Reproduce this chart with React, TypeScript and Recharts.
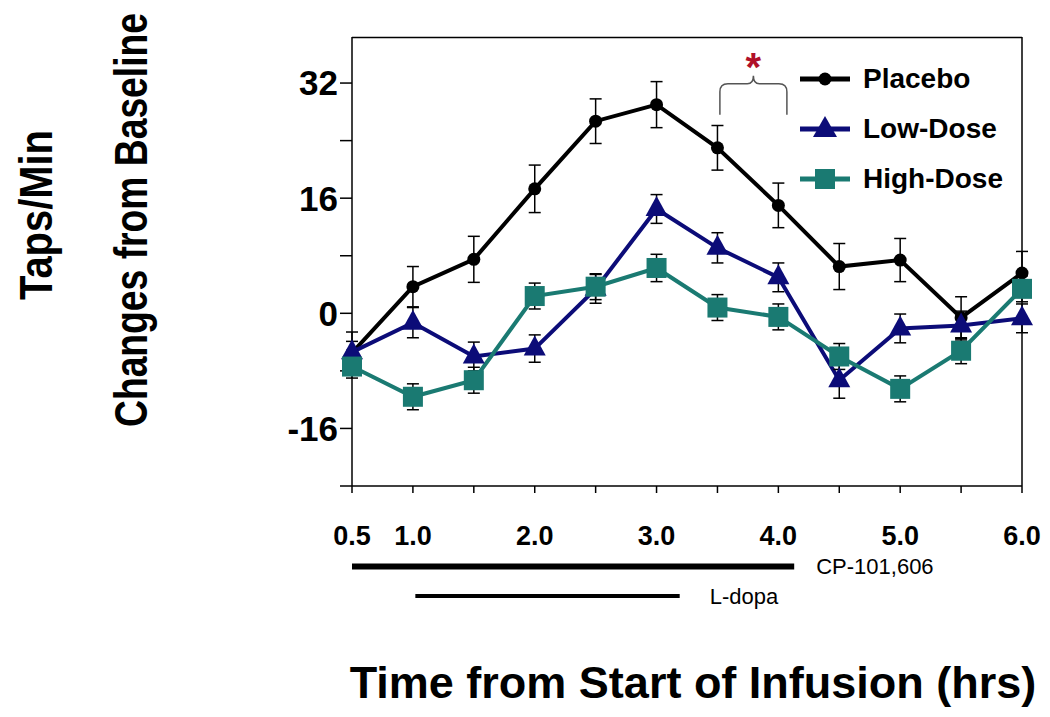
import React from 'react';
import {
  LineChart, Line, XAxis, YAxis, ErrorBar, Legend,
  ReferenceLine, ReferenceArea,
} from 'recharts';

const hours = [0.5, 1.0, 1.5, 2.0, 2.5, 3.0, 3.5, 4.0, 4.5, 5.0, 5.5, 6.0];
const placebo = [-5.5, 3.7, 7.5, 17.3, 26.7, 29.0, 23.0, 15.0, 6.5, 7.4, -0.6, 5.6];
const placeboErr = [2.9, 2.8, 3.2, 3.3, 3.1, 3.2, 3.1, 3.1, 3.2, 3.0, 2.9, 3.0];
const lowDose = [-5.4, -1.3, -6.0, -4.9, 3.4, 14.5, 9.1, 5.0, -9.3, -2.1, -1.7, -0.7];
const lowDoseErr = [1.5, 2.1, 2.0, 1.9, 2.0, 2.0, 2.1, 2.0, 2.5, 2.0, 2.0, 2.0];
const highDose = [-7.4, -11.6, -9.3, 2.4, 3.7, 6.3, 0.8, -0.5, -6.0, -10.5, -5.2, 3.4];
const highDoseErr = [1.6, 1.8, 1.8, 1.8, 1.8, 1.9, 1.8, 1.8, 1.8, 1.8, 1.8, 1.8];

const xTicks = [0.5, 1.0, 1.5, 2.0, 2.5, 3.0, 3.5, 4.0, 4.5, 5.0, 5.5, 6.0];
const xLabelled = [0.5, 1.0, 2.0, 3.0, 4.0, 5.0, 6.0];
const yTicks = [-24, -16, -8, 0, 8, 16, 24, 32];
const yLabelled = [-16, 0, 16, 32];
const Y_MAX = 38.4;

const COLORS = {
  placebo: '#000000',
  low: '#0c0c78',
  high: '#1a7a72',
};

const FONT = '"Liberation Sans", Arial, sans-serif';

const data = hours.map((t, i) => ({
  t,
  placebo: placebo[i],
  placeboErr: placeboErr[i],
  low: lowDose[i],
  lowErr: lowDoseErr[i],
  high: highDose[i],
  highErr: highDoseErr[i],
}));

const circleDot = (props: any) => (
  <circle key={`c-${props.index}`} cx={props.cx} cy={props.cy} r={6.5} fill={COLORS.placebo} />
);

const triangleDot = (props: any) => {
  const { cx, cy } = props;
  return (
    <path
      key={`t-${props.index}`}
      d={`M${cx},${cy - 13} L${cx - 11},${cy + 7} L${cx + 11},${cy + 7} Z`}
      fill={COLORS.low}
    />
  );
};

const squareDot = (props: any) => (
  <rect key={`s-${props.index}`} x={props.cx - 10} y={props.cy - 10} width={20} height={20} fill={COLORS.high} />
);

const legendItems = [
  { name: 'Placebo', color: COLORS.placebo, marker: 'circle' },
  { name: 'Low-Dose', color: COLORS.low, marker: 'triangle' },
  { name: 'High-Dose', color: COLORS.high, marker: 'square' },
];

const LegendContent = () => (
  <div style={{ fontFamily: FONT }}>
    {legendItems.map((item) => (
      <div key={item.name} style={{ display: 'flex', alignItems: 'center', height: 50 }}>
        <svg width={68} height={50}>
          <line x1={5} y1={25} x2={55} y2={25} stroke={item.color} strokeWidth={5} />
          {item.marker === 'circle' && <circle cx={30} cy={25} r={6.5} fill={item.color} />}
          {item.marker === 'triangle' && <path d="M30,12 L18,33 L42,33 Z" fill={item.color} />}
          {item.marker === 'square' && <rect x={20} y={15} width={20} height={20} fill={item.color} />}
        </svg>
        <span style={{ fontSize: 28, fontWeight: 'bold', color: '#000' }}>{item.name}</span>
      </div>
    ))}
  </div>
);

// curly brace over 3.5-4.0 h with the red asterisk
const Brace = (props: any) => {
  const { x, y, width, height } = props;
  const mid = x + width / 2;
  const h = y + 8;
  const b = y + height;
  const d = `M${x},${b} L${x},${h + 8} Q${x},${h} ${x + 8},${h} L${mid - 6},${h} Q${mid},${h} ${mid},${y}`
    + ` Q${mid},${h} ${mid + 6},${h} L${x + width - 8},${h} Q${x + width},${h} ${x + width},${h + 8} L${x + width},${b}`;
  return (
    <g>
      <path d={d} fill="none" stroke="#555" strokeWidth={1.5} />
      <text x={mid} y={y + 5} textAnchor="middle" fill="#b0102a" fontSize={40} fontWeight="bold" fontFamily={FONT}>*</text>
    </g>
  );
};

export default function App() {
  return (
    <div style={{ position: 'absolute', left: 0, top: 0, width: 1050, height: 717, background: '#fff' }}>
      <LineChart
        width={1050}
        height={717}
        data={data}
        margin={{ top: 37, right: 28, bottom: 191, left: 292 }}
      >
        <XAxis
          dataKey="t"
          type="number"
          domain={[0.5, 6]}
          ticks={xTicks}
          tickFormatter={(v: number) => (xLabelled.includes(v) ? v.toFixed(1) : '')}
          height={40}
          stroke="#000"
          strokeWidth={1.5}
          tickSize={7}
          tickMargin={33}
          tick={{ fill: '#000', fontSize: 27, fontWeight: 'bold', fontFamily: FONT }}
          interval={0}
        />
        <YAxis
          type="number"
          domain={[-24, Y_MAX]}
          allowDataOverflow
          ticks={yTicks}
          tickFormatter={(v: number) => (yLabelled.includes(v) ? String(v) : '')}
          width={60}
          stroke="#000"
          strokeWidth={1.5}
          tickSize={12}
          tickMargin={2}
          tick={{ fill: '#000', fontSize: 35, fontWeight: 'bold', fontFamily: FONT }}
          interval={0}
        />
        <ReferenceLine x={6} stroke="#000" strokeWidth={1.5} ifOverflow="visible" />

        <ReferenceArea x1={3.52} x2={4.07} y1={27.6} y2={33} ifOverflow="visible" shape={(p: any) => <Brace {...p} />} />

        <ReferenceLine
          segment={[{ x: 0.5, y: -35.2 }, { x: 4.13, y: -35.2 }]}
          ifOverflow="visible"
          stroke="#000"
          strokeWidth={6}
          label={{ value: 'CP-101,606', position: 'right', offset: 22, fill: '#000', fontSize: 22, fontFamily: FONT }}
        />
        <ReferenceLine
          segment={[{ x: 1.02, y: -39.3 }, { x: 3.19, y: -39.3 }]}
          ifOverflow="visible"
          stroke="#000"
          strokeWidth={4}
          label={{ value: 'L-dopa', position: 'right', offset: 30, fill: '#000', fontSize: 22, fontFamily: FONT }}
        />

        <Line dataKey="placebo" stroke={COLORS.placebo} strokeWidth={4} dot={circleDot} isAnimationActive={false}>
          <ErrorBar dataKey="placeboErr" width={6} stroke="#000" strokeWidth={1.5} direction="y" isAnimationActive={false} />
        </Line>
        <Line dataKey="low" stroke={COLORS.low} strokeWidth={4} dot={triangleDot} isAnimationActive={false}>
          <ErrorBar dataKey="lowErr" width={6} stroke="#000" strokeWidth={1.5} direction="y" isAnimationActive={false} />
        </Line>
        <Line dataKey="high" stroke={COLORS.high} strokeWidth={4} dot={squareDot} isAnimationActive={false}>
          <ErrorBar dataKey="highErr" width={6} stroke="#000" strokeWidth={1.5} direction="y" isAnimationActive={false} />
        </Line>

        <Legend
          content={<LegendContent />}
          layout="vertical"
          align="center"
          verticalAlign="middle"
          wrapperStyle={{ position: 'absolute', left: 795, top: 54, width: 240 }}
        />
      </LineChart>

      <svg width={1050} height={717} style={{ position: 'absolute', left: 0, top: 0, pointerEvents: 'none' }}>
        {/* top edge of the plot frame */}
        <line x1={352} y1={37.5} x2={1022} y2={37.5} stroke="#000" strokeWidth={1.5} />
        <g fontFamily={FONT} fontWeight="bold" fill="#000">
          <text x={52} y={215} transform="rotate(-90 52 215)" textAnchor="middle" fontSize={46} textLength={170} lengthAdjust="spacingAndGlyphs">Taps/Min</text>
          <text x={147} y={220} transform="rotate(-90 147 220)" textAnchor="middle" fontSize={46} textLength={414} lengthAdjust="spacingAndGlyphs">Changes from Baseline</text>
          <text x={693} y={698} textAnchor="middle" fontSize={45}>Time from Start of Infusion (hrs)</text>
        </g>
      </svg>
    </div>
  );
}
